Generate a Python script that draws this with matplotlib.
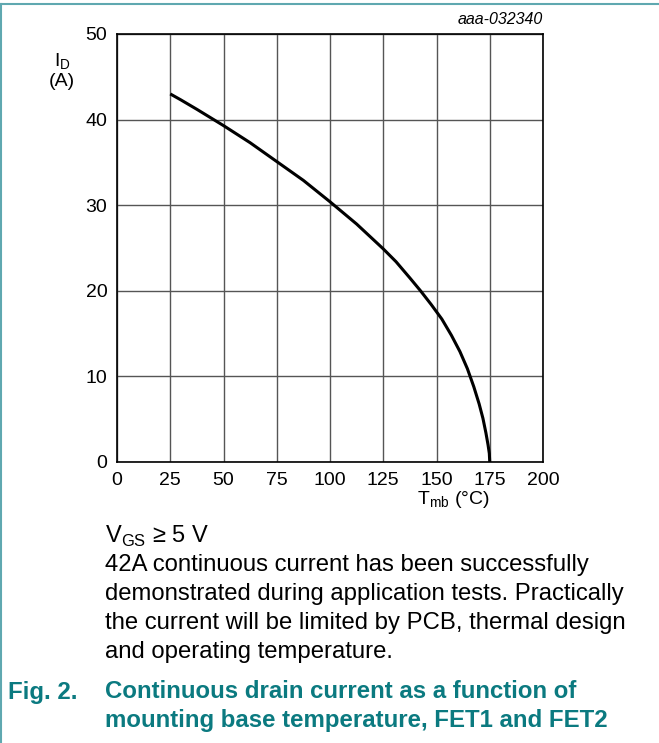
import matplotlib
matplotlib.use("Agg")
import matplotlib.pyplot as plt
from matplotlib.lines import Line2D

plt.rcParams["font.family"] = ["Liberation Sans", "DejaVu Sans"]

# Curve: T_mb (°C) vs I_D (A)
t_mb = [25, 30, 37.5, 50, 62.5, 75, 87.5, 100, 112.5, 125, 131, 137.5, 142.5, 147.5, 152.5,
        157, 161, 164.5, 167.5, 170, 171.8, 173.2, 174.2, 174.8, 175]
i_d = [43.0, 42.3, 41.2, 39.3, 37.3, 35.1, 32.9, 30.4, 27.8, 24.9, 23.4, 21.5, 20.0,
       18.4, 16.7, 14.8, 12.9, 10.9, 8.8, 6.8, 5.1, 3.4, 2.0, 1.0, 0.0]

x_ticks = [0, 25, 50, 75, 100, 125, 150, 175, 200]
y_ticks = [0, 10, 20, 30, 40, 50]

teal = "#0b7a80"
border = "#5fa8b0"

fig = plt.figure(figsize=(6.59, 7.43), dpi=100)
ax = fig.add_axes([117 / 659, 1 - 462 / 743, 426 / 659, 428 / 743])

ax.plot(t_mb, i_d, color="black", lw=2.2, solid_capstyle="butt",
        solid_joinstyle="round", zorder=3)

ax.set_xlim(0, 200)
ax.set_ylim(0, 50)
ax.set_xticks(x_ticks)
ax.set_yticks(y_ticks)
ax.grid(True, color="#555555", lw=1.0)
ax.tick_params(length=0, labelsize=14, pad=7)
for s in ax.spines.values():
    s.set_color("black")
    s.set_linewidth(1.2)

fig.text(543 / 659, 1 - 20 / 743, "aaa-032340", ha="right", va="center",
         fontsize=11.5, style="italic")
fig.text(62 / 659, 1 - 62 / 743, "I$_\\mathregular{D}$", ha="center", va="center", fontsize=14)
fig.text(62 / 659, 1 - 81 / 743, "(A)", ha="center", va="center", fontsize=14)
fig.text(453 / 659, 1 - 499 / 743, "T$_\\mathregular{mb}$ (°C)", ha="center", va="center",
         fontsize=14)

fig.text(105 / 659, 1 - 536 / 743, "V$_\\mathregular{GS}$ ≥ 5 V", ha="left", va="center",
         fontsize=17)
body = ["42A continuous current has been successfully",
        "demonstrated during application tests. Practically",
        "the current will be limited by PCB, thermal design",
        "and operating temperature."]
for k, line in enumerate(body):
    fig.text(105 / 659, 1 - (565 + 29 * k) / 743, line, ha="left", va="center", fontsize=17.2)

fig.text(8 / 659, 1 - 692 / 743, "Fig. 2.", ha="left", va="center", fontsize=17.3,
         fontweight="bold", color=teal)
fig.text(105 / 659, 1 - 692 / 743, "Continuous drain current as a function of",
         ha="left", va="center", fontsize=17.3, fontweight="bold", color=teal)
fig.text(105 / 659, 1 - 720 / 743, "mounting base temperature, FET1 and FET2",
         ha="left", va="center", fontsize=17.3, fontweight="bold", color=teal)

fig.add_artist(Line2D([0, 1], [1 - 4 / 743, 1 - 4 / 743], color=border, lw=1.5,
                      transform=fig.transFigure))
fig.add_artist(Line2D([1 / 659, 1 / 659], [0, 1 - 4 / 743], color=border, lw=1.5,
                      transform=fig.transFigure))

fig.savefig("out.png", dpi=100)
